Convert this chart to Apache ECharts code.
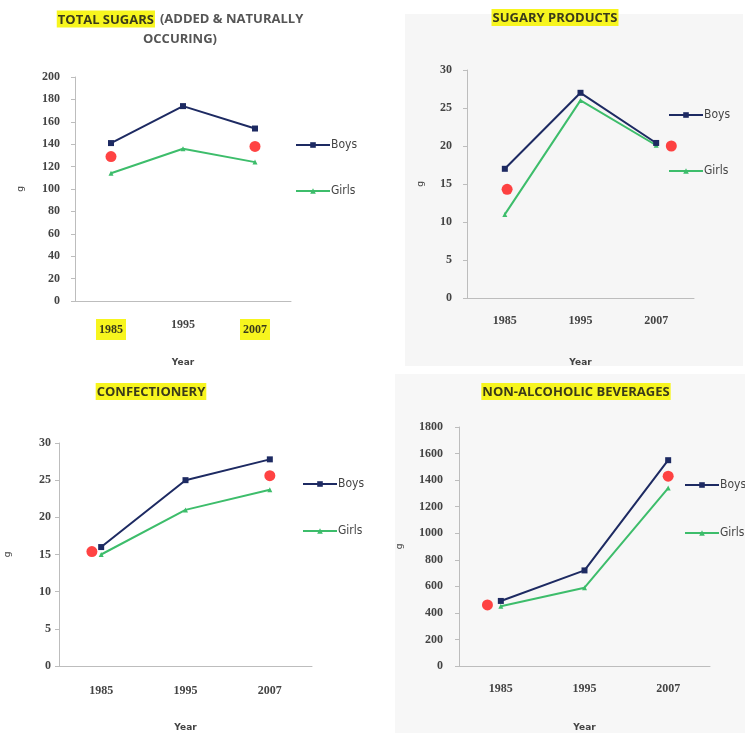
<!DOCTYPE html>
<html>
<head>
<meta charset="utf-8">
<script src="https://cdn.jsdelivr.net/npm/echarts@6/dist/echarts.min.js"></script>
<style>
  html, body { margin: 0; padding: 0; background: #ffffff; }
  #main { width: 745px; height: 733px; }
</style>
</head>
<body>
<div id="main"></div>
<script>
// data
var years = ['1985', '1995', '2007'];

var totalBoys = [141, 174, 154];
var totalGirls = [114, 136, 124];
var totalDots = [[0, 129], [2, 138]];

var sugaryBoys = [17, 27, 20.4];
var sugaryGirls = [11, 26, 20.1];
var sugaryDots = [[0.03, 14.3], [2.2, 20]];

var confBoys = [16, 25, 27.8];
var confGirls = [15, 21, 23.7];
var confDots = [[-0.11, 15.4], [2, 25.6]];

var bevBoys = [490, 720, 1550];
var bevGirls = [450, 590, 1340];
var bevDots = [[-0.16, 460], [2, 1430]];

var yMax = [200, 30, 30, 1800];
var yStep = [20, 5, 5, 200];

var boysColor = '#1d2a62';
var girlsColor = '#3dbd6b';
var dotColor = '#ff1414';
var axisColor = '#bdbdbd';
var labelColor = '#444444';
var hlColor = '#f7f51e';

var chart = echarts.init(document.getElementById('main'));

// plot areas of the 4 panels (pixels)
var grids = [
  { left: 75, top: 77, width: 216, height: 224 },
  { left: 467, top: 70, width: 227, height: 228 },
  { left: 59, top: 443, width: 253, height: 229 },
  { left: 459, top: 427, width: 251, height: 242 }
];
var yNameGap = [50, 42, 47, 55];
var yLabelMargin = [15, 15, 8, 16];
var xNameGap = [57, 60, 57, 57];
var xLabelMargin = [18, 17, 19, 17];

var titleRich = {
  hl: { backgroundColor: hlColor, fontWeight: 'bold', fontSize: 13, color: '#3a3a1a', padding: [3, 1, 1, 1], fontFamily: 'Open Sans' },
  n: { fontWeight: 'bold', fontSize: 13, color: '#555555', fontFamily: 'Open Sans' }
};

var xAxes = [], yAxes = [], series = [];
grids.forEach(function (g, i) {
  xAxes.push({
    type: 'category',
    gridIndex: i,
    data: years,
    name: 'Year',
    nameLocation: 'middle',
    nameGap: xNameGap[i],
    nameTextStyle: { color: labelColor, fontSize: 9, fontWeight: 'bold', fontFamily: 'DejaVu Sans' },
    axisLine: { lineStyle: { color: axisColor } },
    axisTick: { lineStyle: { color: axisColor }, length: 4 },
    axisLabel: {
      color: labelColor,
      fontSize: 12,
      fontWeight: 'bold',
      fontFamily: 'Liberation Serif',
      margin: xLabelMargin[i],
      formatter: function (v) {
        // the total sugars panel has 1985 and 2007 marked with highlighter
        if (i === 0 && v !== '1995') return '{hl|' + v + '}';
        return v;
      },
      rich: {
        hl: { backgroundColor: hlColor, color: '#3a3a1a', fontSize: 12, fontWeight: 'bold', fontFamily: 'Liberation Serif', padding: [5, 3, 4, 3] }
      }
    }
  });
  // hidden value axis so the red dots can sit between categories
  xAxes.push({
    type: 'value',
    gridIndex: i,
    min: -0.5,
    max: 2.5,
    show: false
  });
  yAxes.push({
    type: 'value',
    gridIndex: i,
    min: 0,
    max: yMax[i],
    interval: yStep[i],
    name: 'g',
    nameLocation: 'middle',
    nameGap: yNameGap[i],
    nameRotate: 90,
    nameTextStyle: { color: labelColor, fontSize: 9, fontFamily: 'DejaVu Sans' },
    axisLine: { show: true, onZero: false, lineStyle: { color: axisColor } },
    axisTick: { show: true, lineStyle: { color: axisColor }, length: 4 },
    splitLine: { show: false },
    axisLabel: {
      color: labelColor, fontSize: 12, fontWeight: 'bold', fontFamily: 'Liberation Serif', margin: yLabelMargin[i],
      formatter: function (v) { return String(v); }
    }
  });
});

var panels = [
  [totalBoys, totalGirls, totalDots],
  [sugaryBoys, sugaryGirls, sugaryDots],
  [confBoys, confGirls, confDots],
  [bevBoys, bevGirls, bevDots]
];
panels.forEach(function (p, i) {
  series.push({
    name: 'Boys',
    type: 'line',
    xAxisIndex: i * 2,
    yAxisIndex: i,
    data: p[0],
    symbol: 'rect',
    symbolSize: 6,
    lineStyle: { color: boysColor, width: 2 },
    itemStyle: { color: boysColor },
    z: 3
  });
  series.push({
    name: 'Girls',
    type: 'line',
    xAxisIndex: i * 2,
    yAxisIndex: i,
    data: p[1],
    symbol: 'triangle',
    symbolSize: 5,
    lineStyle: { color: girlsColor, width: 2 },
    itemStyle: { color: girlsColor },
    z: 2
  });
  series.push({
    name: 'dots',
    type: 'scatter',
    xAxisIndex: i * 2 + 1,
    yAxisIndex: i,
    data: p[2],
    symbolSize: 11,
    itemStyle: { color: dotColor },
    z: 4
  });
});

var legendPos = [
  { left: 290, top: 134, itemGap: 34 },
  { left: 663, top: 104, itemGap: 44 },
  { left: 297, top: 473, itemGap: 35 },
  { left: 679, top: 474, itemGap: 36 }
];
var legends = legendPos.map(function (l) {
  return {
    orient: 'vertical',
    left: l.left,
    top: l.top,
    itemGap: l.itemGap,
    itemWidth: 34,
    itemHeight: 7,
    data: ['Boys', 'Girls'],
    textStyle: { color: labelColor, fontSize: 12, fontFamily: 'DejaVu Sans Condensed', padding: [0, 0, 0, -4] }
  };
});

var option = {
  backgroundColor: '#ffffff',
  animation: false,
  graphic: [
    { type: 'rect', left: 405, top: 14, shape: { width: 338, height: 352 }, style: { fill: '#f6f6f6' }, z: -10 },
    { type: 'rect', left: 395, top: 374, shape: { width: 350, height: 359 }, style: { fill: '#f7f7f7' }, z: -10 }
  ],
  title: [
    { text: '{hl|TOTAL SUGARS} {n|(ADDED & NATURALLY}\n{n|OCCURING)}', left: 175, top: 4, textAlign: 'center',
      textStyle: { rich: titleRich, lineHeight: 20 } },
    { text: '{hl|SUGARY PRODUCTS}', left: 550, top: 4, textAlign: 'center', textStyle: { rich: titleRich } },
    { text: '{hl|CONFECTIONERY}', left: 146, top: 378, textAlign: 'center', textStyle: { rich: titleRich } },
    { text: '{hl|NON-ALCOHOLIC BEVERAGES}', left: 571, top: 378, textAlign: 'center', textStyle: { rich: titleRich } }
  ],
  legend: legends,
  grid: grids,
  xAxis: xAxes,
  yAxis: yAxes,
  series: series
};

chart.setOption(option);
window.addEventListener('resize', function () {
  chart.resize();
});
</script>
</body>
</html>
